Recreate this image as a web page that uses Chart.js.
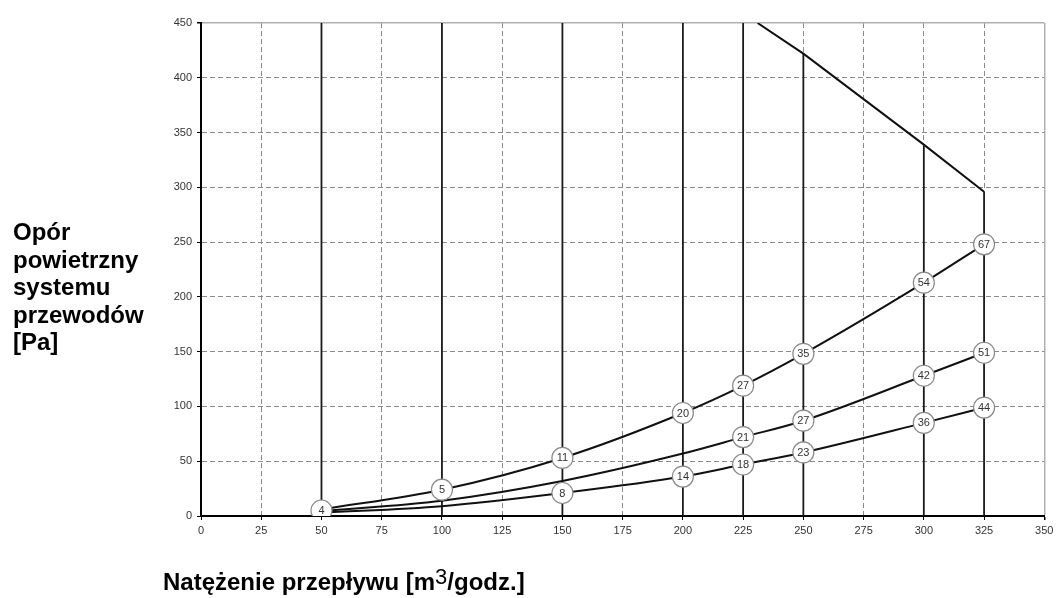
<!DOCTYPE html>
<html>
<head>
<meta charset="utf-8">
<script src="https://cdn.jsdelivr.net/npm/chart.js@4/dist/chart.umd.min.js"></script>
<style>
    body{
        margin:0;
        background:#fff;
        width:1056px;
        height:598px;
        overflow:hidden;
        position:relative;
        font-family:"Liberation Sans", Arial, sans-serif;
    }
    #chart{
        position:absolute;
        left:0;
        top:0;
    }
    .title{
        position:absolute;
        font-weight:bold;
        font-size:24px;
        line-height:27.6px;
        color:#000;
        white-space:nowrap;
    }
    #yTitle{ left:13px; top:218px; }
    #xTitle{ left:163px; top:568px; }
    #xTitle sup{
        font-weight:normal;
        font-size:22px;
        line-height:0;
        vertical-align:6px;
    }
</style>
</head>
<body>

<canvas id="chart" width="1056" height="598"></canvas>

<div class="title" id="yTitle">Opór<br>powietrzny<br>systemu<br>przewodów<br>[Pa]</div>
<div class="title" id="xTitle">Natężenie przepływu [m<sup>3</sup>/godz.]</div>

<script>

// axis ticks
const xTicks=[0,25,50,75,100,125,150,175,200,225,250,275,300,325,350];
const yTicks=[0,50,100,150,200,250,300,350,400,450];

// flow rates where the vertical lines and curves have points
const flow=[50,100,150,200,225,250,300,325];

// height of each vertical line (cut off by the top limit line)
const lineTop=[450,450,450,450,450,422,339,296];

// top limit line
const limitX=[231,250,300,325];
const limitY=[450,422,339,296];

// pressure curves [Pa]
const curveHigh=[6,24,53,94,119,148,213,248];
const curveMid=[4.5,14,32,57,72,87,128,149];
const curveLow=[3,9,21,36,47,58,85,99];

// numbers in circles (null = no circle)
const labelsHigh=[4,5,11,20,27,35,54,67];
const labelsMid=[null,null,null,null,21,27,42,51];
const labelsLow=[null,null,8,14,18,23,36,44];

// the "4" circle sits on the common start point
const startLabelY=5;

//------------------------
// Build datasets
//------------------------

function points(xs,ys){
    return xs.map((x,i)=>({x:x,y:ys[i]}));
}

function labelPoints(ys,labels){
    let out=[];
    flow.forEach((x,i)=>{
        if(labels[i]!==null){
            out.push({x:x,y:(i===0?startLabelY:ys[i]),label:labels[i]});
        }
    });
    return out;
}

const datasets=[];

[labelsHigh,labelsMid,labelsLow].forEach((labels,k)=>{
    const ys=[curveHigh,curveMid,curveLow][k];
    datasets.push({
        type:"scatter",
        isLabel:true,
        data:labelPoints(ys,labels),
        pointRadius:10.5,
        pointBackgroundColor:"#fff",
        pointBorderColor:"#8a8a8a",
        pointBorderWidth:1.2,
        order:0
    });
});

[curveHigh,curveMid,curveLow].forEach(ys=>{
    datasets.push({
        type:"line",
        data:points(flow,ys),
        borderColor:"#111",
        borderWidth:2,
        pointRadius:0,
        tension:0.4,
        cubicInterpolationMode:"monotone",
        order:1
    });
});

flow.forEach((x,i)=>{
    datasets.push({
        type:"line",
        data:[{x:x,y:0},{x:x,y:lineTop[i]}],
        borderColor:"#1a1a1a",
        borderWidth:1.8,
        pointRadius:0,
        order:2
    });
});

datasets.push({
    type:"line",
    data:points(limitX,limitY),
    borderColor:"#111",
    borderWidth:2,
    pointRadius:0,
    order:2
});

//------------------------
// Text in circles
//------------------------

const circleText={
    id:"circleText",
    afterDatasetsDraw(chart){
        const ctx=chart.ctx;
        ctx.save();
        ctx.font="11px 'Liberation Sans', Arial, sans-serif";
        ctx.fillStyle="#333";
        ctx.textAlign="center";
        ctx.textBaseline="middle";
        chart.data.datasets.forEach((ds,i)=>{
            if(!ds.isLabel) return;
            chart.getDatasetMeta(i).data.forEach((pt,j)=>{
                ctx.fillText(String(ds.data[j].label),pt.x,pt.y+0.5);
            });
        });
        ctx.restore();
    }
};

//------------------------
// Chart
//------------------------

function edgeDash(last){
    return c=>(c.tick && c.tick.value===last) ? [] : [5,3];
}
function edgeColor(last){
    return c=>(c.tick && c.tick.value===last) ? "#b0b0b0" : "#8a8a8a";
}

new Chart(document.getElementById("chart"),{
    data:{datasets:datasets},
    options:{
        responsive:false,
        animation:false,
        layout:{padding:{top:23,right:10,left:0,bottom:0}},
        plugins:{
            legend:{display:false},
            tooltip:{enabled:false}
        },
        scales:{
            x:{
                type:"linear",
                min:0,
                max:350,
                afterBuildTicks:s=>{ s.ticks=xTicks.map(v=>({value:v})); },
                afterFit:s=>{ s.height=82; s.paddingRight=0; s.paddingLeft=0; },
                grid:{
                    color:edgeColor(350),
                    lineWidth:c=>(c.tick && c.tick.value===350) ? 1.5 : 1,
                    tickColor:"#000",
                    tickLength:4
                },
                border:{color:"#000",width:2,dash:edgeDash(350)},
                ticks:{
                    color:"#333",
                    padding:4,
                    maxRotation:0,
                    autoSkip:false,
                    font:{family:"'Liberation Sans', Arial, sans-serif",size:11}
                }
            },
            y:{
                type:"linear",
                min:0,
                max:450,
                afterBuildTicks:s=>{ s.ticks=yTicks.map(v=>({value:v})); },
                afterFit:s=>{ s.width=201; s.paddingTop=0; s.paddingBottom=0; },
                grid:{
                    color:edgeColor(450),
                    lineWidth:c=>(c.tick && c.tick.value===450) ? 1.5 : 1,
                    tickColor:"#000",
                    tickLength:4
                },
                border:{color:"#000",width:2,dash:edgeDash(450)},
                ticks:{
                    color:"#333",
                    padding:5,
                    autoSkip:false,
                    font:{family:"'Liberation Sans', Arial, sans-serif",size:11}
                }
            }
        }
    },
    plugins:[circleText]
});

</script>
</body>
</html>
